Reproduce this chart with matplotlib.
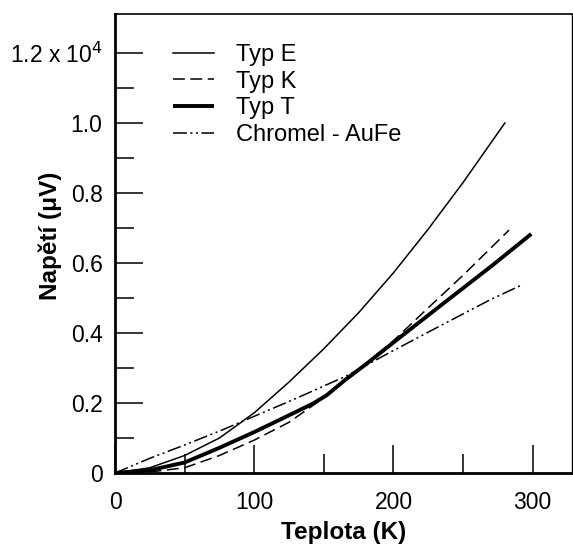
import numpy as np
import matplotlib
matplotlib.use("Agg")
import matplotlib.pyplot as plt
from matplotlib.ticker import FixedLocator, FixedFormatter

plt.rcParams['font.family'] = ['Liberation Sans', 'DejaVu Sans']
plt.rcParams['lines.scale_dashes'] = False

# values (x in K, y in 1e4 uV)
typ_e_x = [0, 25, 50, 75, 100, 125, 150, 175, 200, 225, 250, 280]
typ_e_y = [0, 0.015, 0.05, 0.10, 0.172, 0.26, 0.355, 0.458, 0.572, 0.697, 0.83, 1.0]

typ_k_x = [0, 25, 50, 75, 100, 125, 150, 175, 200, 225, 250, 283]
typ_k_y = [0, 0.003, 0.015, 0.05, 0.094, 0.145, 0.215, 0.295, 0.378, 0.472, 0.565, 0.694]

typ_t_x = [0, 25, 50, 75, 100, 125, 142, 152, 165, 180, 200, 236, 270, 299]
typ_t_y = [0, 0.008, 0.03, 0.072, 0.117, 0.165, 0.198, 0.222, 0.265, 0.31, 0.373, 0.485, 0.59, 0.683]

chromel_x = [0, 25, 50, 77, 100, 130, 166, 200, 230, 269, 292]
chromel_y = [0, 0.042, 0.08, 0.123, 0.162, 0.213, 0.277, 0.35, 0.413, 0.494, 0.537]

labels = ['Typ E', 'Typ K', 'Typ T', 'Chromel - AuFe']
y_ticks = [0, 0.2, 0.4, 0.6, 0.8, 1.0, 1.2]
y_ticklabels = ['0', '0.2', '0.4', '0.6', '0.8', '1.0', r'1.2 x 10$^4$']
x_ticks = [0, 100, 200, 300]

fig = plt.figure(figsize=(5.73, 5.44), dpi=100)
ax = fig.add_axes([0.2007, 0.1305, 0.797, 0.8435])

ax.plot(typ_e_x, typ_e_y, color='black', lw=1.1, label=labels[0])
ax.plot(typ_k_x, typ_k_y, color='black', lw=1.1, linestyle=(0, (8.5, 4)), label=labels[1])
ax.plot(typ_t_x, typ_t_y, color='black', lw=2.8, solid_capstyle='butt', label=labels[2])
ax.plot(chromel_x, chromel_y, color='black', lw=1.1,
        linestyle=(0, (10, 2.5, 1.5, 2.5, 1.5, 2.5)), label=labels[3])

ax.set_xlim(0, 328)
ax.set_ylim(0, 1.311)

ax.xaxis.set_major_locator(FixedLocator(x_ticks))
ax.xaxis.set_minor_locator(FixedLocator([50, 150, 250]))
ax.yaxis.set_major_locator(FixedLocator(y_ticks))
ax.yaxis.set_major_formatter(FixedFormatter(y_ticklabels))
ax.yaxis.set_minor_locator(FixedLocator([0.1, 0.3, 0.5, 0.7, 0.9, 1.1]))

ax.tick_params(axis='both', which='both', direction='in', top=False, right=False,
               width=1.1, labelsize=16.5)
ax.tick_params(axis='both', which='major', length=20)
ax.tick_params(axis='both', which='minor', length=14)
ax.tick_params(axis='x', which='major', pad=13)
ax.tick_params(axis='y', which='major', pad=9)

ax.spines['left'].set_linewidth(2)
ax.spines['bottom'].set_linewidth(2)
ax.spines['top'].set_linewidth(1.2)
ax.spines['right'].set_linewidth(1.0)

ax.set_xlabel('Teplota (K)', fontsize=17.5, fontweight='bold', labelpad=5)
ax.set_ylabel('Napětí (μV)', fontsize=17.5, fontweight='bold')
ax.yaxis.set_label_coords(-0.116, 0.516)

ax.legend(loc='upper left', bbox_to_anchor=(0.127, 0.935), frameon=False,
          fontsize=17, handlelength=1.75, handletextpad=0.9, labelspacing=0.2,
          borderaxespad=0, borderpad=0)

fig.savefig('out.png', dpi=100)
